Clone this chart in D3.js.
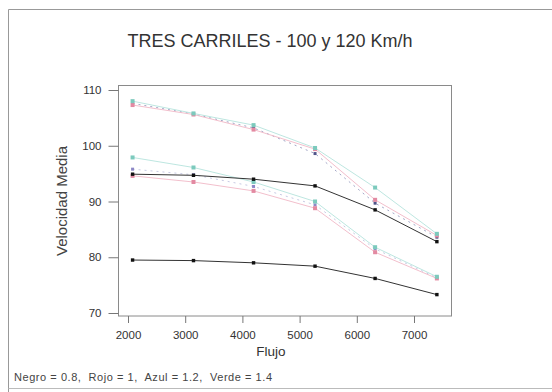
<!DOCTYPE html>
<html><head><meta charset="utf-8">
<script src="https://cdn.jsdelivr.net/npm/d3@7"></script>
<style>body{margin:0;background:#fff}svg{display:block;font-family:"Liberation Sans",Arial,sans-serif}</style>
</head><body>
<svg id="c" width="552" height="392"></svg>
<script>
const title = "TRES CARRILES - 100 y 120 Km/h";
const xLabel = "Flujo";
const yLabel = "Velocidad Media";
const note = "Negro = 0.8,  Rojo = 1,  Azul = 1.2,  Verde = 1.4";
const xTicks = [2000, 3000, 4000, 5000, 6000, 7000];
const yTicks = [70, 80, 90, 100, 110];
// flow positions
const flujo = [2080, 3145, 4195, 5270, 6320, 7400];
// 120 km/h group
const verde120 = [108.0, 105.8, 103.7, 99.6, 92.5, 84.2];
const rojo120  = [107.3, 105.6, 102.9, 99.4, 90.3, 83.9];
const azul120  = [107.6, 105.7, 103.2, 98.6, 89.7, 83.6];
const negro120 = [94.9, 94.7, 94.0, 92.8, 88.5, 82.8];
// 100 km/h group
const verde100 = [97.9, 96.1, 93.5, 90.0, 81.8, 76.5];
const rojo100  = [94.6, 93.5, 91.9, 88.8, 80.9, 76.2];
const azul100  = [95.8, 94.8, 92.7, 89.4, 81.5, 76.3];
const negro100 = [79.5, 79.4, 79.0, 78.4, 76.2, 73.3];

const series = [
  {v: azul120, c: "#8a8fb8", m: "#50558a", w: 0.8, d: "2,4", r: 1.5},
  {v: rojo120, c: "#f0b8c6", m: "#e38aa2", w: 0.9, r: 2},
  {v: verde120, c: "#b6e3dc", m: "#7ccabd", w: 0.9, r: 2},
  {v: azul100, c: "#b9bbdc", m: "#8d88c6", w: 0.8, d: "2,4", r: 1.5},
  {v: rojo100, c: "#f0b8c6", m: "#e38aa2", w: 0.9, r: 2},
  {v: verde100, c: "#b6e3dc", m: "#7ccabd", w: 0.9, r: 2},
  {v: negro120, c: "#333", m: "#111", w: 1, r: 1.7},
  {v: negro100, c: "#333", m: "#111", w: 1, r: 1.7}
];

const svg = d3.select("#c");
// outer frame
svg.append("path").attr("d","M8.5,392 V9.5 H552").attr("fill","none").attr("stroke","#999");
svg.append("line").attr("x1",8.5).attr("x2",552).attr("y1",388.5).attr("y2",388.5).attr("stroke","#bbb");

const x = d3.scaleLinear().domain([2000, 7000]).range([128, 414]);
const y = d3.scaleLinear().domain([70, 110]).range([313, 90]);

// plot frame
svg.append("rect").attr("x",118.5).attr("y",85.5).attr("width",333).attr("height",230.5)
  .attr("fill","none").attr("stroke","#8a8a8a");

const yAxis = svg.append("g").attr("transform","translate(118.5,0)")
  .call(d3.axisLeft(y).tickValues(yTicks).tickSize(10).tickPadding(7).tickFormat(d3.format("d")));
yAxis.select(".domain").remove();
yAxis.selectAll("line").attr("stroke","#777");
yAxis.selectAll("text").attr("font-size","11.5px").attr("fill","#333").attr("font-family","Liberation Sans, Arial, sans-serif");

const xAxis = svg.append("g").attr("transform","translate(0,316)")
  .call(d3.axisBottom(x).tickValues(xTicks).tickSize(7).tickPadding(8).tickFormat(d3.format("d")));
xAxis.select(".domain").remove();
xAxis.selectAll("line").attr("stroke","#777");
xAxis.selectAll("text").attr("font-size","11.5px").attr("fill","#333").attr("font-family","Liberation Sans, Arial, sans-serif");

const line = d3.line().x((d,i)=>x(flujo[i])).y(d=>y(d));
series.forEach(s=>{
  svg.append("path").attr("d", line(s.v)).attr("fill","none")
    .attr("stroke", s.c).attr("stroke-width", s.w).attr("stroke-dasharray", s.d || null);
  svg.selectAll(null).data(s.v).enter().append("rect")
    .attr("x",(d,i)=>x(flujo[i])-s.r).attr("y",d=>y(d)-s.r)
    .attr("width",2*s.r).attr("height",2*s.r).attr("fill", s.m);
});

svg.append("text").attr("x",270).attr("y",47).attr("text-anchor","middle")
  .attr("font-size","18px").attr("fill","#333").text(title);
svg.append("text").attr("x",271).attr("y",356).attr("text-anchor","middle")
  .attr("font-size","13.5px").attr("fill","#333").text(xLabel);
svg.append("text").attr("transform","translate(67,201) rotate(-90)").attr("text-anchor","middle")
  .attr("font-size","15px").attr("fill","#444").text(yLabel);
svg.append("text").attr("x",14).attr("y",381).attr("font-size","11px").attr("fill","#444")
  .attr("textLength",258).attr("lengthAdjust","spacing")
  .attr("xml:space","preserve").style("white-space","pre").text(note);
</script>
</body></html>
